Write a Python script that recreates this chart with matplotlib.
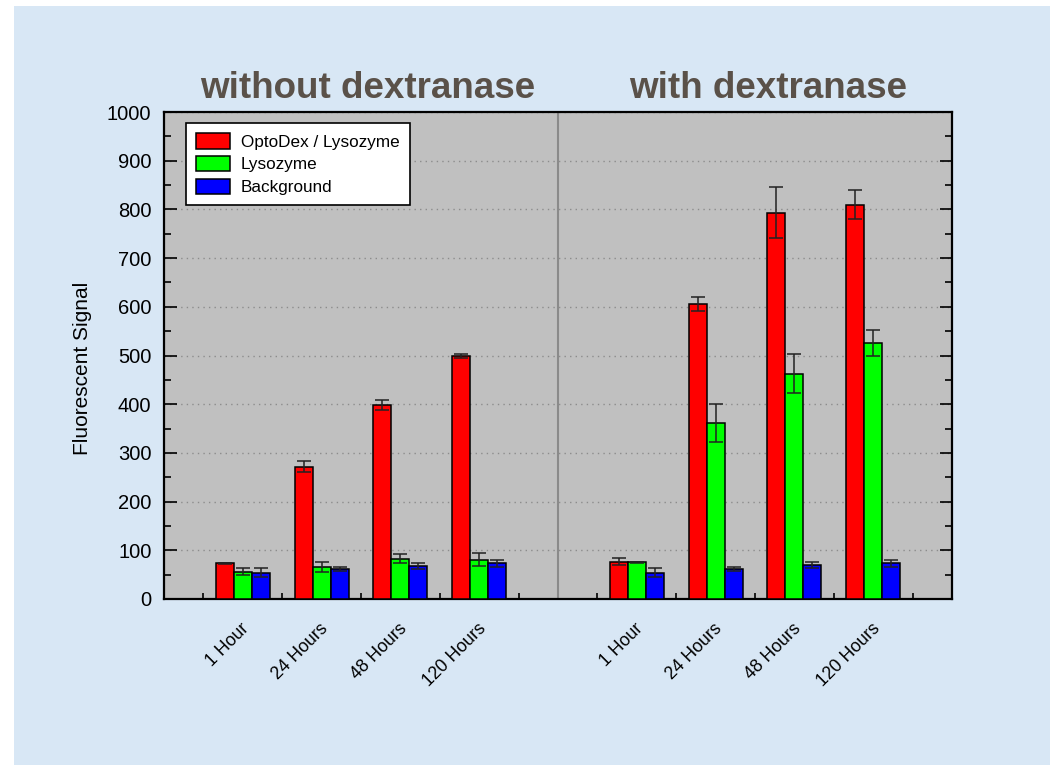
import matplotlib
matplotlib.use("Agg")
import matplotlib.pyplot as plt
import numpy as np
from matplotlib.patches import Rectangle, Patch
from matplotlib.transforms import ScaledTranslation

plt.rcParams['font.family'] = ['Liberation Sans', 'DejaVu Sans']

# ---- data -------------------------------------------------------------
times = ['1 Hour', '24 Hours', '48 Hours', '120 Hours']
panel_titles = ['without dextranase', 'with dextranase']
series_names = ['OptoDex / Lysozyme', 'Lysozyme', 'Background']
series_colors = ['#ff0000', '#00ff00', '#0000ff']

# without dextranase
optodex_no = [73, 272, 398, 499]
optodex_no_err = [1, 11, 10, 4]
lyso_no = [56, 66, 83, 81]
lyso_no_err = [7, 11, 10, 14]
bg_no = [54, 62, 68, 73]
bg_no_err = [9, 4, 6, 7]

# with dextranase
optodex_dex = [77, 606, 793, 810]
optodex_dex_err = [8, 14, 52, 30]
lyso_dex = [75, 361, 463, 526]
lyso_dex_err = [1, 39, 40, 27]
bg_dex = [54, 62, 69, 73]
bg_dex_err = [9, 4, 6, 8]

y_label = 'Fluorescent Signal'

# ---- figure -------------------------------------------------------------
W, H = 1050, 772
fig = plt.figure(figsize=(W / 100, H / 100), dpi=100, facecolor='white')
fig.patches.append(Rectangle((14 / W, 7 / H), 1 - 14 / W, 1 - 13 / H,
                             transform=fig.transFigure, facecolor='#d8e7f5',
                             edgecolor='none', zorder=-5))

ax = fig.add_axes([164 / W, 1 - 599 / H, (952 - 164) / W, (599 - 112) / H])
ax.set_facecolor('#c0c0c0')

width = 0.229
group_centers = np.concatenate([np.arange(4) + 0.5, np.arange(4) + 5.5])
series = [
    (optodex_no + optodex_dex, optodex_no_err + optodex_dex_err),
    (lyso_no + lyso_dex, lyso_no_err + lyso_dex_err),
    (bg_no + bg_dex, bg_no_err + bg_dex_err),
]
for i, ((vals, errs), color) in enumerate(zip(series, series_colors)):
    xs = group_centers + (i - 1) * width
    ax.bar(xs, vals, width=width, color=color, edgecolor='black',
           linewidth=1.1, zorder=3)
    ax.errorbar(xs, vals, yerr=errs, fmt='none', ecolor='#222222',
                elinewidth=1.1, capsize=5, capthick=1.1, zorder=4)

ax.set_xlim(-0.5, 9.5)
ax.set_ylim(0, 1000)

# panel divider
ax.axvline(4.5, color='#8a8a8a', lw=1.5, zorder=2)

# grid
ax.set_yticks(np.arange(0, 1001, 100))
ax.set_yticks(np.arange(50, 1000, 100), minor=True)
ax.yaxis.grid(True, which='major', color='#8c8c8c', linestyle=(0, (1, 3)),
              linewidth=1.0, zorder=1)
ax.set_axisbelow(True)

ax.tick_params(axis='y', which='major', direction='in', length=9, width=1.2,
               left=True, right=True, labelsize=14.5, pad=9)
ax.tick_params(axis='y', which='minor', direction='in', length=5, width=1.2,
               left=True, right=True)
ax.set_xticks(np.arange(10))
ax.set_xticklabels([])
ax.tick_params(axis='x', which='major', direction='in', length=4.5, width=1.2,
               bottom=True, top=False)

for s in ax.spines.values():
    s.set_linewidth(1.6)
    s.set_color('black')

# time labels under each group
offset = ScaledTranslation(4 / 100, -27 / 100, fig.dpi_scale_trans)
for xc, lab in zip(group_centers, times * 2):
    ax.text(xc, 0, lab, transform=ax.get_xaxis_transform() + offset,
            rotation=45, rotation_mode='anchor', ha='right', va='center',
            fontsize=12.7, color='black')

# panel titles
for xc, t in zip([2.08, 7.17], panel_titles):
    ax.text(xc, 1.0, t, transform=ax.get_xaxis_transform() +
            ScaledTranslation(0, 14 / 100, fig.dpi_scale_trans),
            ha='center', va='baseline', fontsize=26.5, fontweight='bold',
            color='#5a5149')

fig.text(82 / W, 1 - 368 / H, y_label, rotation=90, ha='center', va='center',
         fontsize=15, color='black')

handles = [Patch(facecolor=c, edgecolor='black', linewidth=1.1)
           for c in series_colors]
leg = ax.legend(handles, series_names, loc='upper left',
                bbox_to_anchor=((186 - 164) / 788, (599 - 123) / 487),
                borderaxespad=0, fontsize=12.3, frameon=True, fancybox=False,
                framealpha=1, edgecolor='black', handlelength=2.0,
                handleheight=1.0, handletextpad=0.6, labelspacing=0.36,
                borderpad=0.6)
leg.get_frame().set_linewidth(1.2)
leg.set_zorder(5)

fig.savefig('out.png', dpi=100, facecolor=fig.get_facecolor())
